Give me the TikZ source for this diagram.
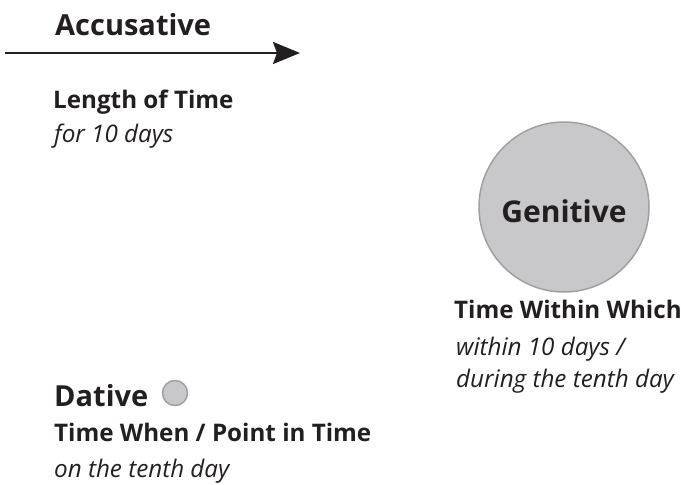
\documentclass[tikz,border=0pt]{standalone}
\usepackage{fontspec}
\setmainfont{Open Sans}
\usetikzlibrary{arrows.meta}
\definecolor{ink}{RGB}{35,31,32}
\definecolor{discfill}{RGB}{200,200,202}
\definecolor{discedge}{RGB}{160,160,163}
\tikzset{
  casename/.style={anchor=base west, inner sep=0pt, font=\fontsize{29}{32}\selectfont\bfseries, text=ink},
  usage/.style={anchor=base west, inner sep=0pt, font=\fontsize{24.2}{27}\selectfont\bfseries, text=ink},
  example/.style={anchor=base west, inner sep=0pt, font=\fontsize{24.2}{27}\selectfont\itshape, text=ink},
  disc/.style={circle, draw=discedge, fill=discfill, line width=1.5pt, inner sep=0pt}
}
\begin{document}
\begin{tikzpicture}[x=1pt, y=-1pt]
    \useasboundingbox (0,0) rectangle (681,485);

    % accusative
    \node[casename] (acc) at (55,35) {Accusative};
    \coordinate (accstart) at (5,53);
    \coordinate (accend) at (300,53);
    \draw[ink, line width=2.5pt, -{Stealth[length=27pt,width=22pt,inset=4pt]}] (accstart) -- (accend);
    \node[usage] (acclen) at (53,108) {Length of Time};
    \node[example] (accex) at (54,142) {for 10 days};

    % genitive
    \node[disc, minimum size=170pt] (gen) at (564,207) {};
    \node[anchor=base, inner sep=0pt, font=\fontsize{30}{33}\selectfont\bfseries, text=ink] (genname) at (564,222) {Genitive};
    \node[usage] (genwithin) at (454,318) {Time Within Which};
    \node[example] (genex1) at (456,355) {within 10 days /};
    \node[example] (genex2) at (456,387) {during the tenth day};

    % dative
    \node[casename] (dat) at (54,406) {Dative};
    \node[disc, minimum size=25pt] (datdot) at (175,393) {};
    \node[usage] (datpoint) at (54,441) {Time When / Point in Time};
    \node[example] (datex) at (54,477) {on the tenth day};
\end{tikzpicture}
\end{document}
